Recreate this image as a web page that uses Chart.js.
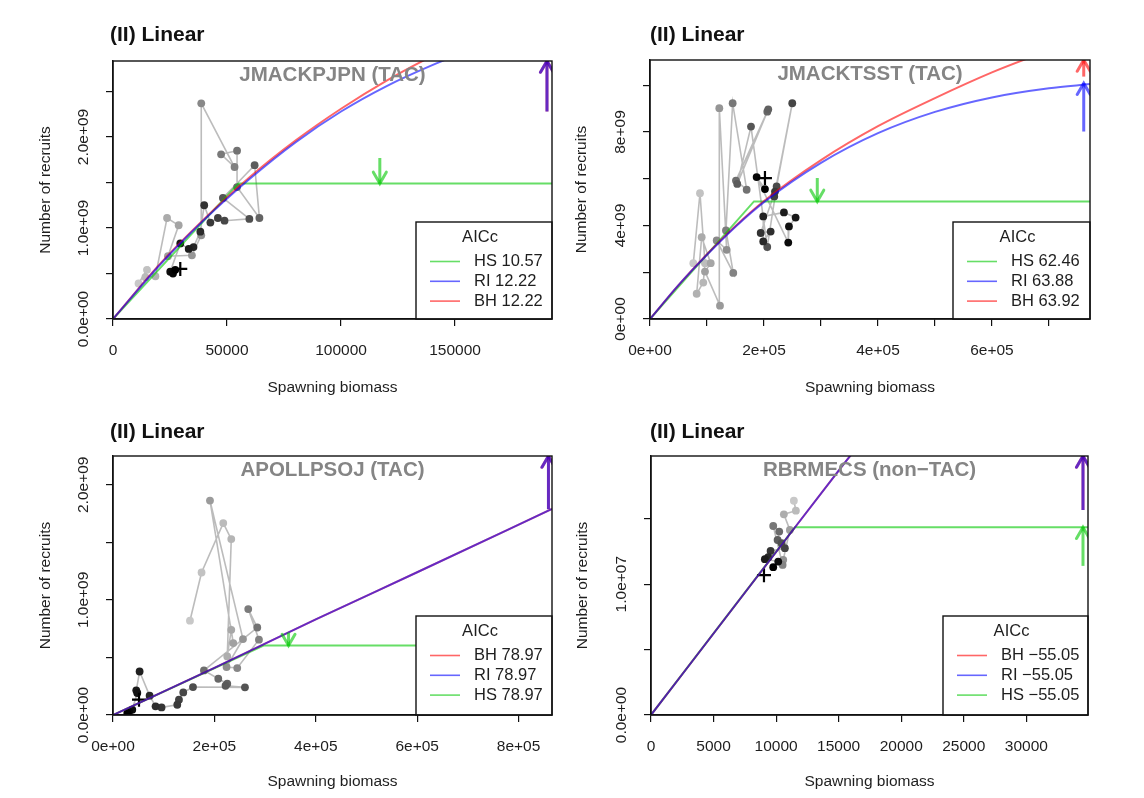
<!DOCTYPE html>
<html>
<head>
<meta charset="utf-8">
<script src="https://cdn.jsdelivr.net/npm/chart.js@4.4.1/dist/chart.umd.min.js"></script>
<style>
  body { margin: 0; background: #fff; width: 1144px; height: 798px; position: relative; overflow: hidden; }
  canvas { position: absolute; }
</style>
</head>
<body>
<canvas id="c1" width="572" height="399" style="left:0;top:0"></canvas>
<canvas id="c2" width="572" height="399" style="left:572px;top:0"></canvas>
<canvas id="c3" width="572" height="399" style="left:0;top:399px"></canvas>
<canvas id="c4" width="572" height="399" style="left:572px;top:399px"></canvas>
<script>
// ---- panel 1: JMACKPJPN (TAC) ----
const ssb1 = [11200, 14900, 14200, 18600, 23700, 28800, 24100, 34600, 38700, 38700, 53300, 47400, 54400, 54400, 64200, 62100, 48200, 59800, 48900, 46000, 42700, 40000, 38300, 35300, 33200, 29500, 25100, 26300, 27300];
const rec1 = [0.39e9, 0.54e9, 0.46e9, 0.47e9, 1.11e9, 1.03e9, 0.69e9, 0.70e9, 0.92e9, 2.37e9, 1.67e9, 1.81e9, 1.85e9, 1.45e9, 1.11e9, 1.69e9, 1.33e9, 1.10e9, 1.08e9, 1.11e9, 1.06e9, 1.25e9, 0.96e9, 0.79e9, 0.77e9, 0.83e9, 0.52e9, 0.50e9, 0.54e9];
const last1 = [29500, 0.55e9];
const fitX1 = [0, 20000, 40000, 60000, 80000, 100000, 120000, 140000, 160000];
const riY1 = [0, 0.58e9, 1.09e9, 1.54e9, 1.94e9, 2.28e9, 2.56e9, 2.79e9, 2.99e9];
const bhY1 = [0, 0.59e9, 1.10e9, 1.56e9, 1.96e9, 2.31e9, 2.62e9, 2.89e9, 3.13e9];
const hsX1 = [0, 55000, 192500];
const hsY1 = [0, 1.49e9, 1.49e9];
const arrows1 = [['BH', 190300, 2.28e9, 2.835e9], ['RI', 190300, 2.28e9, 2.835e9], ['HS', 117000, 1.77e9, 1.49e9]];
const aicc1 = [['HS', '10.57'], ['RI', '12.22'], ['BH', '12.22']];
const xTicks1 = [0, 50000, 100000, 150000];
const xText1 = ['0', '50000', '100000', '150000'];
const yTicks1 = [0, 0.5e9, 1.0e9, 1.5e9, 2.0e9, 2.5e9];
const yText1 = ['0.0e+00', '', '1.0e+09', '', '2.0e+09', ''];

// ---- panel 2: JMACKTSST (TAC) ----
const ssb2 = [76000, 87700, 96500, 93500, 81900, 90700, 106500, 96500, 122800, 121600, 134500, 117000, 146100, 133300, 145000, 169600, 150800, 205800, 207500, 153100, 177200, 205700, 222200, 249600, 218000, 219300, 194200, 211700, 198700, 198700, 235000, 255500, 243800, 242600, 187100, 201700];
const rec2 = [2.39e9, 5.38e9, 2.39e9, 1.56e9, 1.08e9, 3.50e9, 2.39e9, 2.03e9, 0.57e9, 9.02e9, 2.96e9, 3.36e9, 1.97e9, 3.79e9, 9.23e9, 5.53e9, 5.92e9, 8.87e9, 8.97e9, 5.78e9, 8.23e9, 3.08e9, 5.67e9, 9.23e9, 5.24e9, 5.45e9, 3.68e9, 3.74e9, 3.32e9, 4.39e9, 4.56e9, 4.34e9, 3.96e9, 3.27e9, 6.07e9, 5.56e9];
const last2 = [201700, 6.03e9];
const fitX2 = [0, 50000, 100000, 150000, 200000, 300000, 400000, 500000, 600000, 700000, 772000];
const riY2 = [0, 1.45e9, 2.75e9, 3.95e9, 5.0e9, 6.68e9, 7.95e9, 8.86e9, 9.48e9, 9.87e9, 10.05e9];
const bhY2 = [0, 1.45e9, 2.77e9, 3.98e9, 5.05e9, 6.8e9, 8.25e9, 9.45e9, 10.55e9, 11.5e9, 12.2e9];
const hsX2 = [0, 182400, 772000];
const hsY2 = [0, 5.03e9, 5.03e9];
const arrows2 = [['BH', 761000, 10.37e9, 11.08e9], ['RI', 761000, 8.02e9, 10.09e9], ['HS', 293500, 6.03e9, 5.03e9]];
const aicc2 = [['HS', '62.46'], ['RI', '63.88'], ['BH', '63.92']];
const xTicks2 = [0, 1e5, 2e5, 3e5, 4e5, 5e5, 6e5, 7e5];
const xText2 = ['0e+00', '', '2e+05', '', '4e+05', '', '6e+05', ''];
const yTicks2 = [0, 2e9, 4e9, 6e9, 8e9, 10e9];
const yText2 = ['0e+00', '', '4e+09', '', '8e+09', ''];

// ---- panel 3: APOLLPSOJ (TAC) ----
const ssb3 = [151800, 174700, 217500, 233300, 225400, 233300, 237200, 191300, 256400, 224000, 245100, 287900, 266800, 284600, 179400, 207700, 225400, 222000, 260300, 157800, 138600, 130100, 126800, 95800, 84000, 72200, 52500, 45900, 47900, 38000, 31500, 28200];
const rec3 = [0.819e9, 1.238e9, 1.667e9, 1.528e9, 0.509e9, 0.740e9, 0.625e9, 1.863e9, 0.660e9, 0.417e9, 0.408e9, 0.654e9, 0.920e9, 0.760e9, 0.387e9, 0.315e9, 0.272e9, 0.254e9, 0.240e9, 0.243e9, 0.196e9, 0.133e9, 0.089e9, 0.066e9, 0.075e9, 0.168e9, 0.378e9, 0.214e9, 0.191e9, 0.046e9, 0.023e9, 0.017e9];
const last3 = [51300, 0.133e9];
const fitX3 = [0, 200000, 400000, 600000, 866000];
const riY3 = [0, 0.41e9, 0.83e9, 1.24e9, 1.79e9];
const bhY3 = [0, 0.41e9, 0.83e9, 1.24e9, 1.79e9];
const hsX3 = [0, 297000, 866000];
const hsY3 = [0, 0.604e9, 0.604e9];
const arrows3 = [['BH', 859000, 1.788e9, 2.25e9], ['RI', 859000, 1.788e9, 2.25e9], ['HS', 346300, 0.717e9, 0.604e9]];
const aicc3 = [['BH', '78.97'], ['RI', '78.97'], ['HS', '78.97']];
const xTicks3 = [0, 2e5, 4e5, 6e5, 8e5];
const xText3 = ['0e+00', '2e+05', '4e+05', '6e+05', '8e+05'];
const yTicks3 = [0, 0.5e9, 1.0e9, 1.5e9, 2.0e9];
const yText3 = ['0.0e+00', '', '1.0e+09', '', '2.0e+09'];

// ---- panel 4: RBRMECS (non-TAC) ----
const ssb4 = [11420, 11580, 10620, 11100, 10570, 10520, 9770, 10250, 10120, 10440, 10700, 9560, 9370, 9100, 10170, 9770];
const rec4 = [1.638e7, 1.562e7, 1.534e7, 1.415e7, 1.186e7, 1.147e7, 1.445e7, 1.402e7, 1.338e7, 1.313e7, 1.275e7, 1.254e7, 1.206e7, 1.191e7, 1.173e7, 1.130e7];
const last4 = [9030, 1.069e7];
const fitX4 = [0, 5000, 10000, 15000, 16000];
const riY4 = [0, 0.623e7, 1.246e7, 1.869e7, 1.99e7];
const bhY4 = [0, 0.623e7, 1.246e7, 1.869e7, 1.99e7];
const hsX4 = [0, 11500, 34930];
const hsY4 = [0, 1.435e7, 1.435e7];
const arrows4 = [['BH', 34530, 1.567e7, 1.98e7], ['RI', 34530, 1.567e7, 1.98e7], ['HS', 34530, 1.14e7, 1.435e7]];
const aicc4 = [['BH', '\u221255.05'], ['RI', '\u221255.05'], ['HS', '\u221255.05']];
const xTicks4 = [0, 5000, 10000, 15000, 20000, 25000, 30000];
const xText4 = ['0', '5000', '10000', '15000', '20000', '25000', '30000'];
const yTicks4 = [0, 0.5e7, 1.0e7, 1.5e7];
const yText4 = ['0.0e+00', '', '1.0e+07', ''];

const modelColor = { HS: 'rgba(0,200,0,0.6)', RI: 'rgba(0,0,255,0.6)', BH: 'rgba(255,0,0,0.6)' };
const arrowOrder = { RI: 1, HS: 1.2, BH: 1.5 };
const FONT = '"Liberation Sans", Arial, Helvetica, sans-serif';
Chart.defaults.font.family = FONT;
Chart.defaults.color = '#1e1e1e';

// R-style extras: rotated y labels, titles, box, AICc legend, arrow heads
const rDecor = {
  id: 'rDecor',
  afterDatasetsDraw(chart) {
    const { ctx, chartArea: a } = chart;
    ctx.save();
    ctx.beginPath();
    ctx.rect(a.left, a.top, a.right - a.left, a.bottom - a.top);
    ctx.clip();
    // draw heads in the same stacking as the shafts (highest order first)
    const idx = chart.data.datasets.map((ds, i) => i).filter(i => chart.data.datasets[i].arrow)
      .sort((i, j) => chart.data.datasets[j].order - chart.data.datasets[i].order);
    idx.forEach(i => {
      const ds = chart.data.datasets[i];
      const pts = chart.getDatasetMeta(i).data;
      const p0 = pts[0], p1 = pts[pts.length - 1];
      const ang = Math.atan2(p1.y - p0.y, p1.x - p0.x);
      const L = 13, w = Math.PI / 6;
      ctx.strokeStyle = ds.borderColor;
      ctx.lineWidth = ds.borderWidth;
      ctx.lineCap = 'round';
      ctx.beginPath();
      ctx.moveTo(p1.x - L * Math.cos(ang - w), p1.y - L * Math.sin(ang - w));
      ctx.lineTo(p1.x, p1.y);
      ctx.lineTo(p1.x - L * Math.cos(ang + w), p1.y - L * Math.sin(ang + w));
      ctx.stroke();
    });
    ctx.restore();
  },
  afterDraw(chart, args, o) {
    const { ctx, chartArea: a, scales: { y } } = chart;
    ctx.save();
    // legend
    const x0 = a.right - o.legW, y0 = a.bottom - o.legH;
    ctx.fillStyle = '#fff';
    ctx.fillRect(x0, y0, o.legW, o.legH);
    ctx.strokeStyle = '#111';
    ctx.lineWidth = 1.4;
    ctx.strokeRect(x0, y0, o.legW, o.legH);
    ctx.font = '16.5px ' + FONT;
    ctx.fillStyle = '#1e1e1e';
    ctx.textBaseline = 'middle';
    ctx.textAlign = 'center';
    ctx.fillText('AICc', x0 + o.legW / 2 - 4, y0 + 15);
    ctx.textAlign = 'left';
    o.aicc.forEach(([m, v], i) => {
      const yy = y0 + 39.5 + 19.8 * i;
      ctx.strokeStyle = modelColor[m];
      ctx.lineWidth = 1.6;
      ctx.beginPath();
      ctx.moveTo(x0 + 14, yy);
      ctx.lineTo(x0 + 44, yy);
      ctx.stroke();
      ctx.fillText(m + ' ' + v, x0 + 58, yy);
    });
    // plot box
    ctx.strokeStyle = '#111';
    ctx.lineWidth = 1.4;
    ctx.strokeRect(a.left, a.top, a.right - a.left, a.bottom - a.top);
    // rotated y tick labels
    ctx.font = '15.5px ' + FONT;
    ctx.textAlign = 'center';
    o.yTicks.forEach((v, i) => {
      if (!o.yText[i]) return;
      ctx.save();
      ctx.translate(a.left - 29, y.getPixelForValue(v));
      ctx.rotate(-Math.PI / 2);
      ctx.fillText(o.yText[i], 0, 0);
      ctx.restore();
    });
    // panel heading and stock name
    ctx.textAlign = 'left';
    ctx.font = 'bold 21px ' + FONT;
    ctx.fillStyle = '#111';
    ctx.fillText('(II) Linear', a.left - o.headShift, o.headY);
    ctx.textAlign = 'center';
    ctx.font = 'bold 20.5px ' + FONT;
    ctx.fillStyle = '#858585';
    ctx.fillText(o.stock, (a.left + a.right) / 2, a.top + 14.5);
    ctx.restore();
  }
};

function xy(xs, ys) {
  return xs.map((x, i) => ({ x, y: ys[i] }));
}

function makePanel(id, p) {
  const n = p.ssb.length;
  const shades = p.ssb.map((_, i) => {
    const g = Math.round(200 * (1 - i / (n - 1)));
    return `rgb(${g},${g},${g})`;
  });
  const datasets = [];
  p.arrows.forEach(([m, x, from, to]) => {
    datasets.push({ data: [{ x, y: from }, { x, y: to }], arrow: true, showLine: true,
      borderColor: modelColor[m], borderWidth: 3, pointRadius: 0, order: arrowOrder[m] });
  });
  datasets.push({ data: xy(p.fitX, p.riY), showLine: true, borderColor: modelColor.RI,
    borderWidth: 2, pointRadius: 0, cubicInterpolationMode: 'monotone', order: 2 });
  datasets.push({ data: xy(p.fitX, p.bhY), showLine: true, borderColor: modelColor.BH,
    borderWidth: 2, pointRadius: 0, cubicInterpolationMode: 'monotone', order: 3 });
  datasets.push({ data: xy(p.hsX, p.hsY), showLine: true, borderColor: modelColor.HS,
    borderWidth: 2, pointRadius: 0, order: 4 });
  datasets.push({ data: [{ x: p.last[0], y: p.last[1] }], pointStyle: 'cross', pointRadius: 7,
    borderWidth: 2.2, borderColor: '#000', order: 5 });
  datasets.push({ data: xy(p.ssb, p.rec), showLine: true, borderColor: 'rgba(165,165,165,0.75)',
    borderWidth: 1.6, pointRadius: 3.9, pointBackgroundColor: shades, pointBorderColor: shades,
    pointBorderWidth: 0, order: 6 });

  const H = 399 - p.area.bottom;
  return new Chart(document.getElementById(id), {
    type: 'scatter',
    data: { datasets },
    options: {
      responsive: false,
      animation: false,
      layout: { padding: { left: 0, top: p.area.top, right: 572 - p.area.right, bottom: 0 } },
      plugins: {
        legend: { display: false },
        tooltip: { enabled: false },
        rDecor: { aicc: p.aicc, legW: p.legW, legH: p.legH, yTicks: p.yTicks, yText: p.yText,
          stock: p.stock, headY: p.headY, headShift: p.headShift }
      },
      scales: {
        x: {
          type: 'linear', position: 'bottom', min: 0, max: p.xmax,
          afterBuildTicks: s => { s.ticks = p.xTicks.map(v => ({ value: v })); },
          afterFit: s => { s.height = H; },
          ticks: { autoSkip: false, maxRotation: 0, padding: 15, font: { size: 15.5 }, color: '#1e1e1e',
            callback: v => p.xText[p.xTicks.indexOf(v)] || '' },
          grid: { drawOnChartArea: false, drawTicks: true, tickLength: 7, color: '#111', lineWidth: 1.2 },
          border: { display: true, color: '#111', width: 1.4 },
          title: { display: true, text: 'Spawning biomass', font: { size: 15.5 }, color: '#1e1e1e',
            padding: { top: 0, bottom: p.xTitlePad } }
        },
        y: {
          type: 'linear', position: 'left', min: 0, max: p.ymax,
          afterBuildTicks: s => { s.ticks = p.yTicks.map(v => ({ value: v })); },
          afterFit: s => { s.width = p.area.left; },
          ticks: { display: false },
          grid: { drawOnChartArea: false, drawTicks: true, tickLength: 7, color: '#111', lineWidth: 1.2 },
          border: { display: true, color: '#111', width: 1.4 },
          title: { display: true, text: 'Number of recruits', font: { size: 15.5 }, color: '#1e1e1e',
            padding: { top: p.yTitlePad, bottom: 0 } }
        }
      }
    },
    plugins: [rDecor]
  });
}

makePanel('c1', {
  ssb: ssb1, rec: rec1, last: last1, fitX: fitX1, riY: riY1, bhY: bhY1, hsX: hsX1, hsY: hsY1,
  arrows: arrows1, aicc: aicc1, xTicks: xTicks1, xText: xText1, yTicks: yTicks1, yText: yText1,
  xmax: 192500, ymax: 2.835e9, stock: 'JMACKPJPN (TAC)',
  area: { left: 113, top: 61, right: 552, bottom: 319 },
  legW: 136, legH: 97, headY: 35, headShift: 3, xTitlePad: 1.5, yTitlePad: 36
});
makePanel('c2', {
  ssb: ssb2, rec: rec2, last: last2, fitX: fitX2, riY: riY2, bhY: bhY2, hsX: hsX2, hsY: hsY2,
  arrows: arrows2, aicc: aicc2, xTicks: xTicks2, xText: xText2, yTicks: yTicks2, yText: yText2,
  xmax: 772000, ymax: 11.08e9, stock: 'JMACKTSST (TAC)',
  area: { left: 78, top: 60, right: 518, bottom: 319 },
  legW: 137, legH: 97, headY: 35, headShift: 0, xTitlePad: 1.5, yTitlePad: 0
});
makePanel('c3', {
  ssb: ssb3, rec: rec3, last: last3, fitX: fitX3, riY: riY3, bhY: bhY3, hsX: hsX3, hsY: hsY3,
  arrows: arrows3, aicc: aicc3, xTicks: xTicks3, xText: xText3, yTicks: yTicks3, yText: yText3,
  xmax: 866000, ymax: 2.25e9, stock: 'APOLLPSOJ (TAC)',
  area: { left: 113, top: 57, right: 552, bottom: 316 },
  legW: 136, legH: 99, headY: 33, headShift: 3, xTitlePad: 6.5, yTitlePad: 36
});
makePanel('c4', {
  ssb: ssb4, rec: rec4, last: last4, fitX: fitX4, riY: riY4, bhY: bhY4, hsX: hsX4, hsY: hsY4,
  arrows: arrows4, aicc: aicc4, xTicks: xTicks4, xText: xText4, yTicks: yTicks4, yText: yText4,
  xmax: 34930, ymax: 1.98e7, stock: 'RBRMECS (non\u2212TAC)',
  area: { left: 79, top: 57, right: 516, bottom: 316 },
  legW: 145, legH: 99, headY: 33, headShift: 1, xTitlePad: 6.5, yTitlePad: 1
});
</script>
</body>
</html>
